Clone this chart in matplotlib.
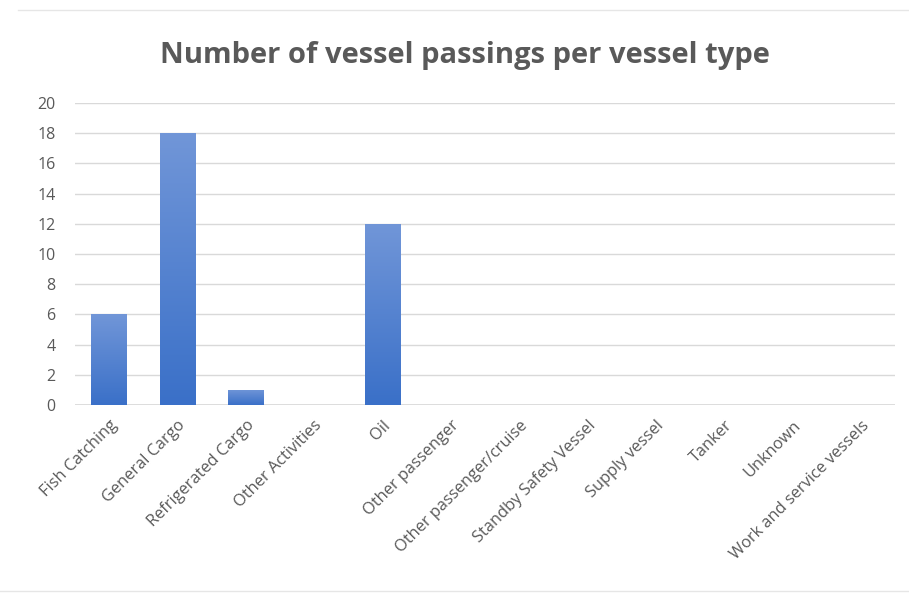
import matplotlib
matplotlib.use("Agg")
import matplotlib.pyplot as plt
import matplotlib.transforms as mtransforms
import numpy as np
from matplotlib.colors import LinearSegmentedColormap

categories = ["Fish Catching", "General Cargo", "Refrigerated Cargo", "Other Activities",
              "Oil", "Other passenger", "Other passenger/cruise", "Standby Safety Vessel",
              "Supply vessel", "Tanker", "Unknown", "Work and service vessels"]
values = [6, 18, 1, 0, 12, 0, 0, 0, 0, 0, 0, 0]
yticks = [0, 2, 4, 6, 8, 10, 12, 14, 16, 18, 20]

plt.rcParams['font.family'] = ['Open Sans', 'DejaVu Sans']
fig = plt.figure(figsize=(9.09, 5.93), dpi=100)
ax = fig.add_axes([75/909, 1-405/593, 820/909, 302/593])

x = np.arange(len(categories))
bars = ax.bar(x, values, width=0.52, color='#4a7fd0', zorder=2)
cmap = LinearSegmentedColormap.from_list('g', ['#3a70c8', '#7196d8'])
grad = np.linspace(0, 1, 256).reshape(-1, 1)
for b in bars:
    h = b.get_height()
    if h <= 0:
        continue
    x0 = b.get_x(); w = b.get_width()
    im = ax.imshow(grad, extent=[x0, x0 + w, 0, h], origin='lower', cmap=cmap,
                   aspect='auto', zorder=3)
    im.set_clip_path(b)
    b.set_facecolor('none')

ax.set_xlim(-0.5, len(categories) - 0.5)
ax.set_ylim(0, 20)
ax.set_yticks(yticks)
ax.set_yticklabels([str(t) for t in yticks], fontsize=11.5, color='#595959')
ax.set_xticks(x)
ax.set_xticklabels(categories, rotation=45, ha='right', va='top', rotation_mode='anchor',
                   fontsize=11.8, color='#595959')
offset = mtransforms.ScaledTranslation(-5/100, 0, fig.dpi_scale_trans)
for lbl in ax.get_xticklabels():
    lbl.set_transform(lbl.get_transform() + offset)
ax.tick_params(axis='both', length=0)
ax.tick_params(axis='y', pad=14)
ax.tick_params(axis='x', pad=9)
ax.grid(axis='y', color='#d9d9d9', linewidth=1, zorder=0)
for s in ax.spines.values():
    s.set_visible(False)
ax.axhline(0, color='#d9d9d9', linewidth=1.2, zorder=1)

fig.text(465/909, 1-55/593, "Number of vessel passings per vessel type", ha='center', va='center',
         fontsize=21, fontweight='bold', color='#595959')

fig.add_artist(plt.Line2D([0.02, 1], [1-10/593, 1-10/593], transform=fig.transFigure,
                          color='#e6e6e6', linewidth=1))
fig.add_artist(plt.Line2D([0.0, 1], [1-591/593, 1-591/593], transform=fig.transFigure,
                          color='#e6e6e6', linewidth=1))

fig.savefig("out.png", dpi=100)
